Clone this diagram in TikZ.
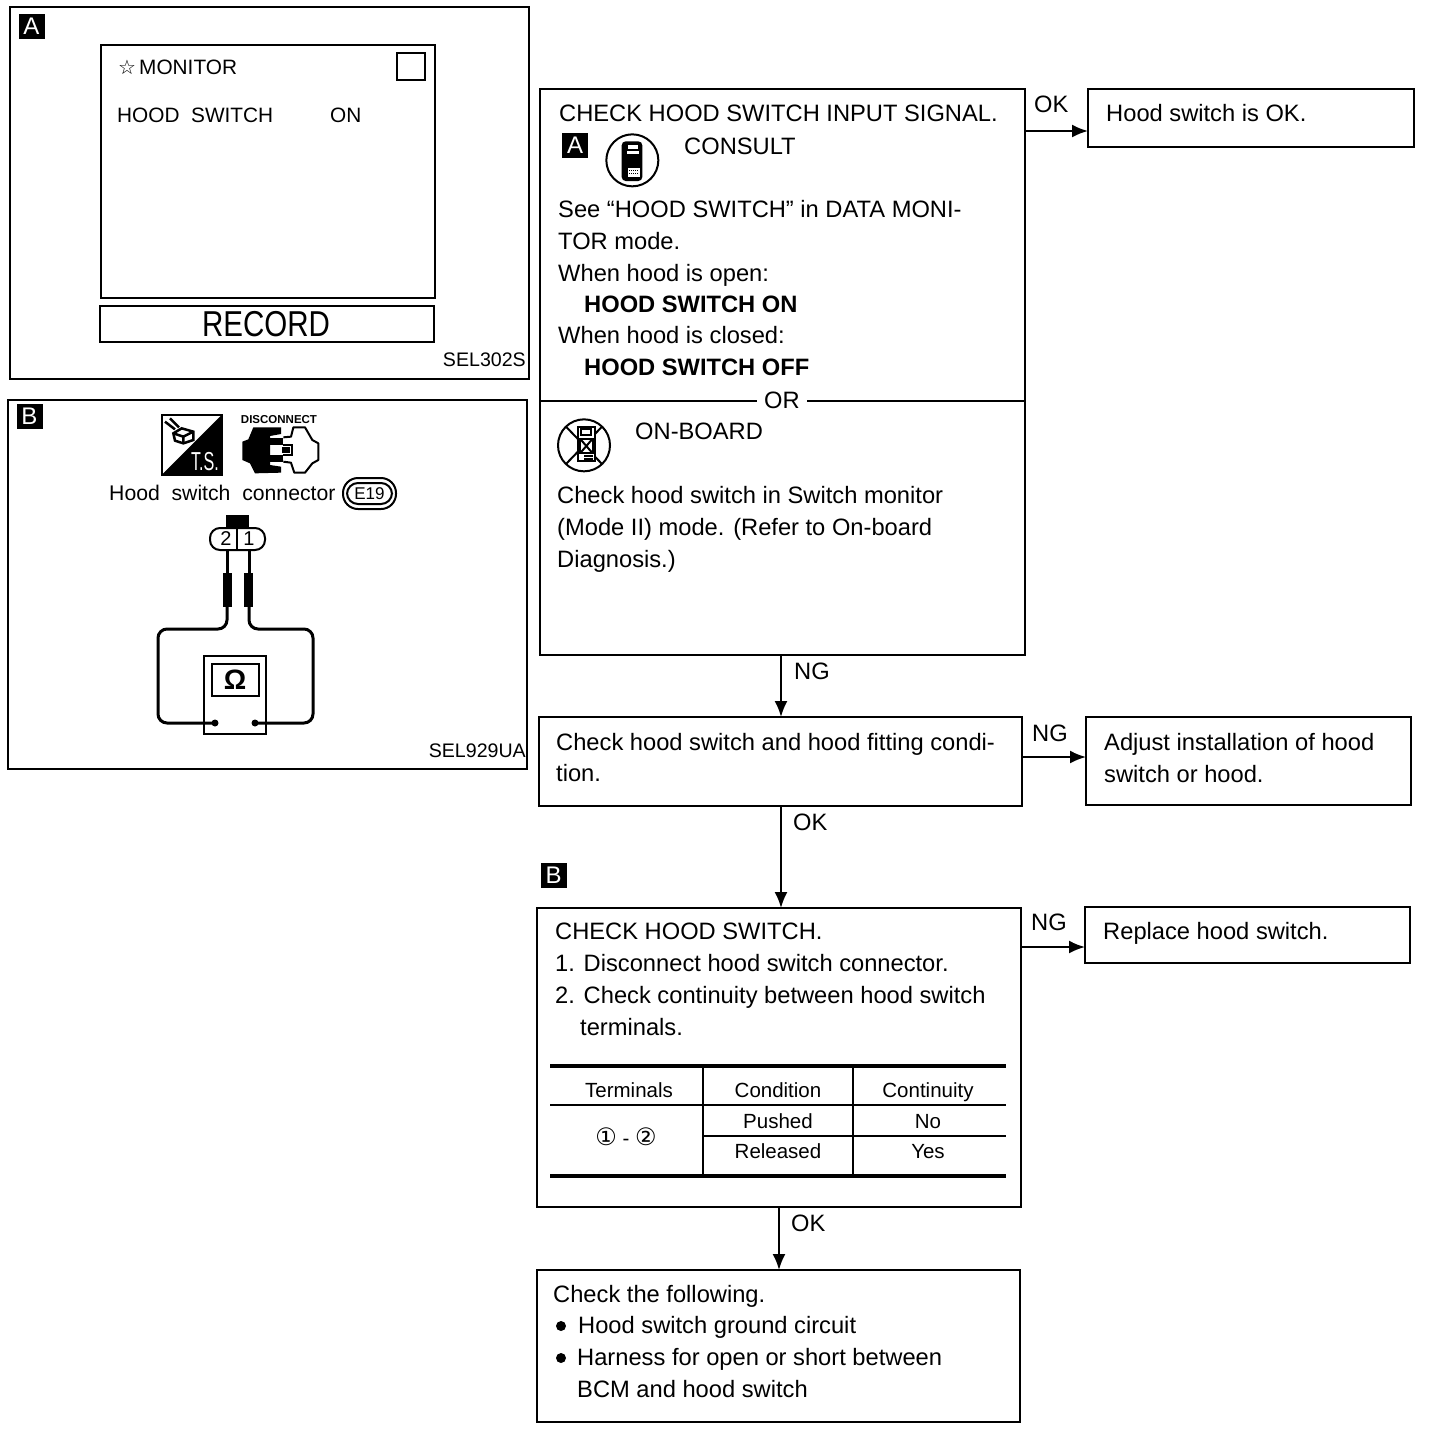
\documentclass[tikz,border=0pt]{standalone}
\usepackage{graphicx}
\usepackage{fontspec}
\setmainfont{Liberation Sans}
\newfontfamily\djv{DejaVu Sans}
\usetikzlibrary{arrows.meta}
\tikzset{
  x=1pt,y=-1pt,
  boxnode/.style={draw,line width=2pt,anchor=north west,inner sep=0pt,outer sep=0pt},
  ln/.style={anchor=base west,inner sep=0pt,font=\fontsize{23.7}{28}\selectfont},
  lnb/.style={ln,font=\fontsize{23.7}{28}\selectfont\bfseries},
  scr/.style={anchor=base west,inner sep=0pt,font=\fontsize{20.8}{24}\selectfont},
  cell/.style={anchor=base,inner sep=0pt,font=\fontsize{20.5}{24}\selectfont},
  code/.style={anchor=base east,inner sep=0pt,font=\fontsize{19.6}{24}\selectfont},
  tag/.style={fill=black,text=white,anchor=center,inner sep=0pt,font=\fontsize{24}{26}\selectfont},
  arr/.style={line width=2pt,-{Latex[length=16pt,width=13pt]}},
  rule/.style={line width=2pt},
  thick rule/.style={line width=4pt},
  wire/.style={line width=3pt,rounded corners=9pt},
  zoomed/.style={shift={#1},x=0.33333pt,y=-0.33333pt},
}
\newcommand{\bx}[5]{\node[boxnode,minimum width=#4,minimum height=#5] (#1) at (#2,#3) {};}
\newcommand{\tg}[4]{\node[tag,minimum width=26pt,minimum height=25pt] (#1) at (#2,#3) {#4};}
\begin{document}
\begin{tikzpicture}
\useasboundingbox (0,0) rectangle (1440,1428);
\fill[white] (0,0) rectangle (1440,1428);

% Panel A
\bx{pa}{10}{7}{519pt}{372pt}
\tg{ta}{31.5}{26}{A}
\bx{screen}{101}{45}{334pt}{253pt}
\bx{rec}{100}{306}{334pt}{36pt}
\bx{sq}{397}{53}{28pt}{27pt}
\node[scr,font=\djv\fontsize{20}{22}\selectfont] (star) at (118,74) {☆};
\node[scr] (mon) at (139,74) {MONITOR};
\node[scr] (hs) at (117,122) {HOOD\ \ SWITCH};
\node[scr] (on) at (330,122) {ON};
\node[anchor=base,inner sep=0pt,font=\fontsize{36}{38}\selectfont] (rect) at (266,336) {\scalebox{.82}[1]{RECORD}};
\node[code] (c1) at (526,366) {SEL302S};

% Panel B
\bx{pb}{8}{400}{519pt}{369pt}
\tg{tb}{29.5}{416.5}{B}
\begin{scope}[zoomed={(155,410)}]
  % T.S. icon
  \draw[line width=2pt] (20,15) rectangle (200,195);
  \fill (200,15) -- (200,195) -- (20,195) -- cycle;
  \draw[line width=2.5pt] (30,35) -- (60,58) (45,25) -- (72,52);
  \draw[line width=2.5pt] (55,70) -- (80,55) -- (115,65) -- (115,90) -- (85,100) -- (60,92) -- cycle;
  \draw[line width=2.5pt] (55,70) -- (85,80) -- (115,65) (85,80) -- (85,100);
  % disconnect icon
  \fill (295,52) -- (378,52) -- (378,72) -- (345,78) -- (345,165) -- (378,170) -- (378,188) -- (300,190) -- (285,160) -- (262,150) -- (262,95) -- (280,88) -- cycle;
  \fill (345,85) rectangle (385,105);
  \fill (345,135) rectangle (385,155);
  \draw[line width=2pt,line join=round] (385,82) -- (408,80) -- (415,52) -- (450,52) -- (472,90) -- (490,100) -- (490,150) -- (472,160) -- (450,188) -- (418,188) -- (408,158) -- (385,155);
  \draw[line width=2pt] (385,105) -- (412,105) -- (412,135) -- (385,135);
  \fill (380,112) rectangle (406,128);
\end{scope}
\node[anchor=base,inner sep=0pt,text=white,font=\fontsize{26}{28}\selectfont] (ts) at (205,470) {\scalebox{.62}[1]{T.S.}};
\node[anchor=base,inner sep=0pt,font=\fontsize{11.5}{12}\selectfont\bfseries] (disc) at (279,423.5) {DISCONNECT};
\node[scr,font=\fontsize{21.2}{24}\selectfont] (hsc) at (109,500) {Hood\ \ switch\ \ connector};
\draw[line width=2pt,rounded corners=15pt] (343,478) rectangle (396,509);
\draw[line width=2pt,rounded corners=11pt] (347,483) rectangle (392,504);
\node[anchor=center,inner sep=0pt,font=\fontsize{17}{18}\selectfont] (e19) at (369.5,493.5) {E19};
\fill (226,515) rectangle (249,527);
\draw[line width=2pt,rounded corners=10pt] (210,528) rectangle (265,550);
\draw[line width=2pt] (237,528) -- (237,551);
\node[anchor=center,inner sep=0pt,font=\fontsize{20}{22}\selectfont] (t2) at (226,539) {2};
\node[anchor=center,inner sep=0pt,font=\fontsize{20}{22}\selectfont] (t1) at (249,539) {1};
\fill (223,573) rectangle (232,607);
\fill (244,573) rectangle (253,607);
\draw[line width=3pt] (227,550) -- (227,573);
\draw[line width=3pt] (249,550) -- (249,573);
\draw[wire] (227,607) -- (227,629) -- (158,629) -- (158,723) -- (215,723);
\draw[wire] (249,607) -- (249,629) -- (313,629) -- (313,723) -- (255,723);
\draw[line width=2.5pt] (204,656) rectangle (266,734);
\draw[line width=2.5pt] (212,664) rectangle (259,696);
\node[anchor=center,inner sep=0pt,font=\fontsize{28}{30}\selectfont\bfseries] (om) at (235,680) {Ω};
\fill (215,723) circle (3.5);
\fill (255,723) circle (3.5);
\node[code] (c2) at (526,757) {SEL929UA};

% Box 1
\bx{b1}{540}{89}{485pt}{566pt}
\coordinate (b1r) at (1025,131);
\draw[rule] (540,401) -- (757,401);
\draw[rule] (807,401) -- (1025,401);
\node[ln] (l1) at (559,121) {CHECK HOOD SWITCH INPUT SIGNAL.};
\tg{ta2}{575}{145}{A}
\begin{scope}[zoomed={(600,132)}]
  \draw[line width=2pt] (97,85) circle (78);
  \fill[rounded corners=4pt] (65,28) rectangle (127,147);
  \fill[white] (84,38) rectangle (114,50);
  \fill[white] (82,56) rectangle (118,66);
  \fill[white] (84,108) rectangle (120,135);
  \draw[line width=1pt,densely dotted] (88,116) -- (116,116) (88,124) -- (116,124);
\end{scope}
\node[ln] (l2) at (684,154) {CONSULT};
\node[ln] (l3) at (558,217) {See “HOOD SWITCH” in DATA MONI-};
\node[ln] (l4) at (558,249) {TOR mode.};
\node[ln] (l5) at (558,281) {When hood is open:};
\node[lnb] (l6) at (584,312) {HOOD SWITCH ON};
\node[ln] (l7) at (558,343) {When hood is closed:};
\node[lnb] (l8) at (584,375) {HOOD SWITCH OFF};
\node[ln] (or) at (764,408) {OR};
\begin{scope}[zoomed={(552,416)}]
  \draw[line width=2pt] (96,88) circle (78);
  \draw[line width=2pt] (42,32) -- (150,144) (150,32) -- (42,144);
  \draw[line width=2pt,fill=white] (78,33) rectangle (128,136);
  \draw[line width=2pt] (88,40) rectangle (116,58);
  \draw[line width=2pt] (84,68) rectangle (122,112);
  \draw[line width=2pt] (84,68) -- (122,112) (122,68) -- (84,112);
  \draw[line width=2pt] (96,120) -- (122,120) (96,128) -- (122,128);
\end{scope}
\node[ln] (l9) at (635,439) {ON-BOARD};
\node[ln] (l10) at (557,503) {Check hood switch in Switch monitor};
\node[ln] (l11) at (557,535) {(Mode II) mode. (Refer to On-board};
\node[ln] (l12) at (557,567) {Diagnosis.)};

% OK box
\bx{b2}{1088}{89}{326pt}{58pt}
\coordinate (b2l) at (1088,131);
\node[ln] (l13) at (1106,121) {Hood switch is OK.};
\node[ln] (lok1) at (1034,112) {OK};
\draw[arr] (b1r) -- (b2l);

% Box 3
\bx{b3}{539}{717}{483pt}{89pt}
\coordinate (b1b) at (781,655);
\coordinate (b3t) at (781,717);
\draw[arr] (b1b) -- (b3t);
\node[ln] (lng1) at (794,679) {NG};
\node[ln] (l14) at (556,750) {Check hood switch and hood fitting condi-};
\node[ln] (l15) at (556,781) {tion.};
\bx{b4}{1086}{717}{325pt}{88pt}
\coordinate (b3r) at (1022,757);
\coordinate (b4l) at (1086,757);
\draw[arr] (b3r) -- (b4l);
\node[ln] (lng2) at (1032,741) {NG};
\node[ln] (l16) at (1104,750) {Adjust installation of hood};
\node[ln] (l17) at (1104,782) {switch or hood.};

% Box 5
\bx{b5}{537}{908}{484pt}{299pt}
\coordinate (b3b) at (781,806);
\coordinate (b5t) at (781,908);
\draw[arr] (b3b) -- (b5t);
\node[ln] (lok2) at (793,830) {OK};
\tg{tb2}{553.5}{875.5}{B}
\node[ln] (l18) at (555,939) {CHECK HOOD SWITCH.};
\node[ln] (l19) at (555,971) {1. Disconnect hood switch connector.};
\node[ln] (l20) at (555,1003) {2. Check continuity between hood switch};
\node[ln] (l21) at (580,1035) {terminals.};
\draw[thick rule] (550,1066) -- (1006,1066);
\draw[thick rule] (550,1176) -- (1006,1176);
\draw[rule] (550,1105) -- (1006,1105);
\draw[rule] (703,1136) -- (1006,1136);
\draw[rule] (703,1066) -- (703,1176);
\draw[rule] (853,1066) -- (853,1176);
\node[cell] (h1) at (629,1097) {Terminals};
\node[cell] (h2) at (778,1097) {Condition};
\node[cell] (h3) at (928,1097) {Continuity};
\node[cell] (c21) at (778,1128) {Pushed};
\node[cell] (c31) at (928,1128) {No};
\node[cell] (c22) at (778,1158) {Released};
\node[cell] (c32) at (928,1158) {Yes};
\node[cell] (c11) at (626,1145) {{\djv\fontsize{24}{26}\selectfont ①}\ -\ {\djv\fontsize{24}{26}\selectfont ②}};
\bx{b6}{1085}{907}{325pt}{56pt}
\coordinate (b5r) at (1021,947);
\coordinate (b6l) at (1085,947);
\draw[arr] (b5r) -- (b6l);
\node[ln] (lng3) at (1031,930) {NG};
\node[ln] (l22) at (1103,939) {Replace hood switch.};

% Box 7
\bx{b7}{537}{1270}{483pt}{152pt}
\coordinate (b5b) at (779,1207);
\coordinate (b7t) at (779,1270);
\draw[arr] (b5b) -- (b7t);
\node[ln] (lok3) at (791,1231) {OK};
\node[ln] (l23) at (553,1302) {Check the following.};
\fill (561,1326) circle (5);
\node[ln] (l24) at (578,1333) {Hood switch ground circuit};
\fill (561,1358) circle (5);
\node[ln] (l25) at (577,1365) {Harness for open or short between};
\node[ln] (l26) at (577,1397) {BCM and hood switch};
\end{tikzpicture}
\end{document}
